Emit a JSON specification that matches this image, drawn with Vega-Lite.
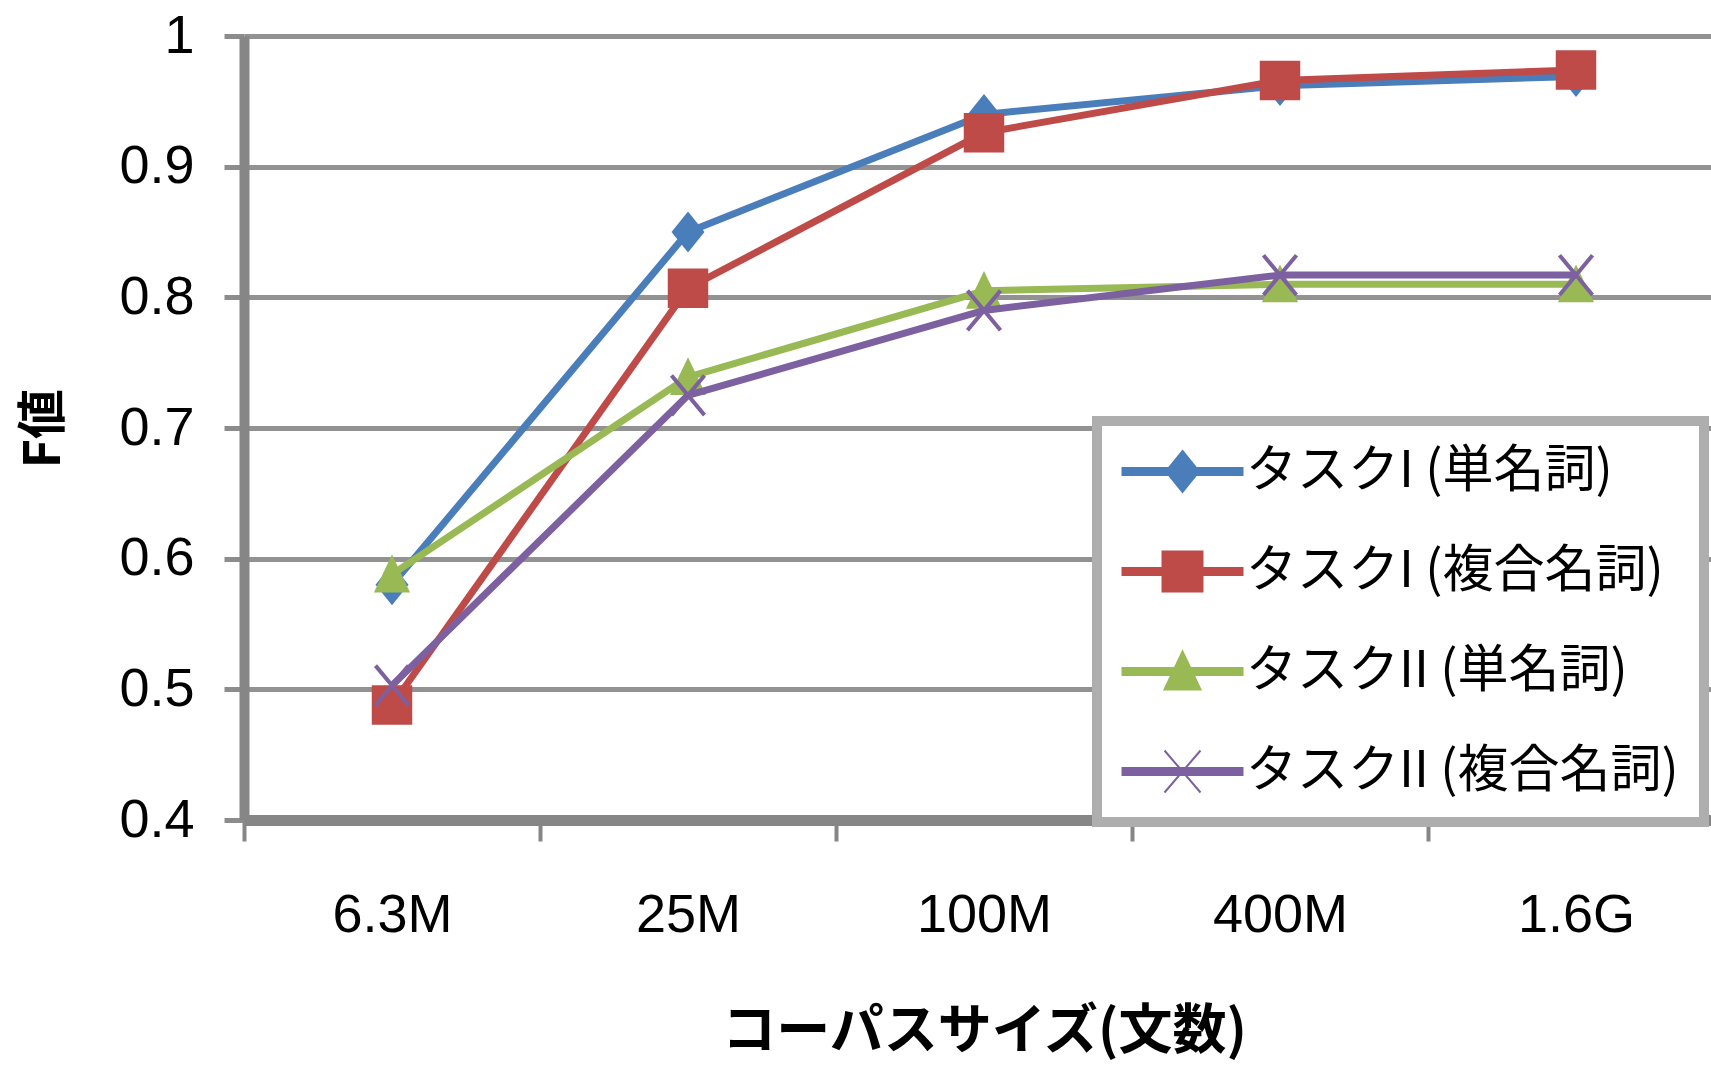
{
  "$schema": "https://vega.github.io/schema/vega-lite/v6.json",
  "width": 1467,
  "height": 784,
  "autosize": {"type": "none"},
  "padding": {"left": 244, "top": 36, "right": 0, "bottom": 246},
  "background": "white",
  "config": {
    "view": {"stroke": null},
    "axis": {"labelColor": "#000000", "titleColor": "#000000"}
  },
  "data": {
    "values": [
      {"series": "タスクI (単名詞)", "size": "6.3M", "f": 0.58},
      {"series": "タスクI (単名詞)", "size": "25M", "f": 0.85},
      {"series": "タスクI (単名詞)", "size": "100M", "f": 0.94},
      {"series": "タスクI (単名詞)", "size": "400M", "f": 0.962},
      {"series": "タスクI (単名詞)", "size": "1.6G", "f": 0.969},
      {"series": "タスクI (複合名詞)", "size": "6.3M", "f": 0.488},
      {"series": "タスクI (複合名詞)", "size": "25M", "f": 0.807},
      {"series": "タスクI (複合名詞)", "size": "100M", "f": 0.926},
      {"series": "タスクI (複合名詞)", "size": "400M", "f": 0.966},
      {"series": "タスクI (複合名詞)", "size": "1.6G", "f": 0.974},
      {"series": "タスクII (単名詞)", "size": "6.3M", "f": 0.588},
      {"series": "タスクII (単名詞)", "size": "25M", "f": 0.739},
      {"series": "タスクII (単名詞)", "size": "100M", "f": 0.805},
      {"series": "タスクII (単名詞)", "size": "400M", "f": 0.81},
      {"series": "タスクII (単名詞)", "size": "1.6G", "f": 0.81},
      {"series": "タスクII (複合名詞)", "size": "6.3M", "f": 0.503},
      {"series": "タスクII (複合名詞)", "size": "25M", "f": 0.725},
      {"series": "タスクII (複合名詞)", "size": "100M", "f": 0.79},
      {"series": "タスクII (複合名詞)", "size": "400M", "f": 0.817},
      {"series": "タスクII (複合名詞)", "size": "1.6G", "f": 0.817}
    ]
  },
  "encoding": {
    "x": {
      "field": "size",
      "type": "nominal",
      "sort": ["6.3M", "25M", "100M", "400M", "1.6G"],
      "scale": {"type": "band", "domain": ["6.3M", "25M", "100M", "400M", "1.6G"], "range": [0, 1480], "paddingInner": 0, "paddingOuter": 0},
      "axis": {
        "title": "コーパスサイズ(文数)",
        "titleFont": "Noto Sans CJK JP",
        "titleFontSize": 54,
        "titleFontWeight": "bold",
        "titleBaseline": "middle",
        "titleY": 212,
        "labelAngle": 0,
        "labelFont": "Liberation Sans",
        "labelFontSize": 54,
        "labelPadding": 47,
        "tickBand": "extent",
        "tickSize": 21,
        "tickWidth": 4,
        "tickColor": "#868686",
        "domainColor": "#868686",
        "domainWidth": 11,
        "grid": false
      }
    },
    "y": {
      "field": "f",
      "type": "quantitative",
      "scale": {"domain": [0.4, 1.0], "nice": false, "zero": false},
      "axis": {
        "title": "F値",
        "titleFont": "Noto Sans CJK JP",
        "titleFontSize": 50,
        "titleFontWeight": "bold",
        "titleAngle": -90,
        "titleAlign": "center",
        "titleBaseline": "middle",
        "titleX": -200,
        "titleY": 392,
        "values": [0.4, 0.5, 0.6, 0.7, 0.8, 0.9, 1.0],
        "format": ".1~f",
        "labelFont": "Liberation Sans",
        "labelFontSize": 54,
        "labelPadding": 30,
        "tickSize": 20,
        "tickWidth": 5,
        "tickColor": "#8c8c8c",
        "domainColor": "#868686",
        "domainWidth": 10,
        "grid": true,
        "gridColor": "#929292",
        "gridWidth": 5
      }
    },
    "color": {
      "field": "series",
      "type": "nominal",
      "scale": {
        "domain": ["タスクI (単名詞)", "タスクI (複合名詞)", "タスクII (単名詞)", "タスクII (複合名詞)"],
        "range": ["#4A7EBB", "#BE4B48", "#98B954", "#7D60A0"]
      },
      "legend": {
        "title": null,
        "orient": "none",
        "direction": "vertical",
        "legendX": 853,
        "legendY": 385,
        "padding": 25,
        "rowPadding": 48,
        "symbolOffset": 35,
        "labelOffset": 38,
        "symbolSize": 1600,
        "labelFont": "Noto Sans CJK JP",
        "labelFontSize": 51,
        "labelColor": "#000000",
        "labelLimit": 0,
        "fillColor": "white",
        "strokeColor": "#aeaeae",
        "encode": {
          "legend": {"update": {"strokeWidth": {"value": 10}}},
          "symbols": {
            "update": {
              "shape": {"signal": "datum.value === 'タスクI (単名詞)' ? 'M-3,-0.175H3V0.175H-3Z M0,-1.025L0.825,0L0,1.025L-0.825,0Z' : datum.value === 'タスクI (複合名詞)' ? 'M-3,-0.175H3V0.175H-3Z M-1,-1H1V1H-1Z' : datum.value === 'タスクII (単名詞)' ? 'M-3,-0.175H3V0.175H-3Z M0,-1L0.9,0.9L-0.9,0.9Z' : 'M-3,-0.175H3V0.175H-3Z M-0.9,-1.05L0.9,1.05M0.9,-1.05L-0.9,1.05'"},
              "fill": {"scale": "color", "field": "value"},
              "stroke": {"scale": "color", "field": "value"},
              "strokeWidth": {"value": 2},
              "opacity": {"value": 1},
              "fillOpacity": {"value": 1},
              "strokeOpacity": {"value": 1}
            }
          }
        }
      }
    }
  },
  "layer": [
    {
      "transform": [{"filter": "datum.series === 'タスクI (単名詞)'"}],
      "layer": [
        {"mark": {"type": "line", "strokeWidth": 7, "strokeJoin": "round"}},
        {"mark": {"type": "point", "filled": true, "opacity": 1, "size": 1936, "shape": "M0,-0.93L0.75,0L0,0.93L-0.75,0Z"}}
      ]
    },
    {
      "transform": [{"filter": "datum.series === 'タスクI (複合名詞)'"}],
      "layer": [
        {"mark": {"type": "line", "strokeWidth": 7, "strokeJoin": "round"}},
        {"mark": {"type": "point", "filled": true, "opacity": 1, "size": 1936, "shape": "M-0.92,-0.9H0.92V0.9H-0.92Z"}}
      ]
    },
    {
      "transform": [{"filter": "datum.series === 'タスクII (単名詞)'"}],
      "layer": [
        {"mark": {"type": "line", "strokeWidth": 7, "strokeJoin": "round"}},
        {"mark": {"type": "point", "filled": true, "opacity": 1, "size": 1936, "shape": "M0,-0.9L0.82,0.82L-0.82,0.82Z"}}
      ]
    },
    {
      "transform": [{"filter": "datum.series === 'タスクII (複合名詞)'"}],
      "layer": [
        {"mark": {"type": "line", "strokeWidth": 7, "strokeJoin": "round"}},
        {"mark": {"type": "point", "filled": false, "opacity": 1, "size": 1936, "strokeWidth": 4, "shape": "M-0.75,-0.9L0.75,0.9M0.75,-0.9L-0.75,0.9"}}
      ]
    }
  ]
}
